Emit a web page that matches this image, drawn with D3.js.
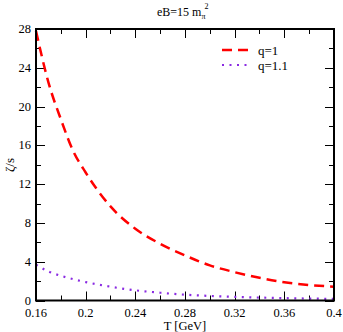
<!DOCTYPE html>
<meta charset="utf-8">
<style>
  body { margin: 0; background: #fff; }
  svg text { font-family: "Liberation Serif", "DejaVu Serif", serif; }
</style>
<svg width="343" height="332"></svg>
<script src="https://cdnjs.cloudflare.com/ajax/libs/d3/7.8.5/d3.min.js"></script>
<script>
  // data
  var temps = [0.16, 0.17, 0.18, 0.19, 0.20, 0.22, 0.24, 0.26, 0.28, 0.30, 0.32, 0.34, 0.36, 0.38, 0.40];
  var zetaQ1 = [27.8, 22.5, 18.7, 15.4, 13.2, 9.7, 7.4, 5.85, 4.65, 3.62, 2.92, 2.34, 1.88, 1.6, 1.42];
  var zetaQ11 = [3.7, 3.0, 2.55, 2.2, 1.9, 1.42, 1.05, 0.8, 0.6, 0.47, 0.38, 0.3, 0.24, 0.2, 0.16];
  var xTicks = [0.16, 0.2, 0.24, 0.28, 0.32, 0.36, 0.4];
  var yTicks = [0, 4, 8, 12, 16, 20, 24, 28];

  var svg = d3.select("svg");
  var plotL = 36, plotR = 334, plotT = 29, plotB = 300.5;

  var x = d3.scaleLinear().domain([0.16, 0.4]).range([plotL, plotR]);
  var y = d3.scaleLinear().domain([0, 28]).range([plotB, plotT]);

  var ticksG = svg.append("g").attr("stroke", "#000").attr("stroke-width", 1);

  // x ticks, bottom and top, pointing inward
  d3.range(0, 13).forEach(function(i) {
    var v = 0.16 + i * 0.02;
    var len = i % 2 == 0 ? 9 : 5;
    var px = Math.round(x(v)) + 0.5;
    ticksG.append("line").attr("x1", px).attr("x2", px).attr("y1", plotB).attr("y2", plotB - len);
    ticksG.append("line").attr("x1", px).attr("x2", px).attr("y1", plotT).attr("y2", plotT + len);
  });
  // y ticks, left and right
  d3.range(0, 15).forEach(function(i) {
    var v = i * 2;
    var len = i % 2 == 0 ? 9 : 5;
    var py = Math.round(y(v)) + 0.5;
    ticksG.append("line").attr("y1", py).attr("y2", py).attr("x1", plotL).attr("x2", plotL + len);
    ticksG.append("line").attr("y1", py).attr("y2", py).attr("x1", plotR).attr("x2", plotR - len);
  });

  var line = d3.line()
    .x(function(d) { return x(d[0]); })
    .y(function(d) { return y(d[1]); })
    .curve(d3.curveMonotoneX);

  svg.append("path")
    .datum(temps.map(function(t, i) { return [t, zetaQ1[i]]; }))
    .attr("d", line)
    .attr("fill", "none")
    .attr("stroke", "#ff0000")
    .attr("stroke-width", 2.5)
    .attr("stroke-dasharray", "10,6");

  svg.append("path")
    .datum(temps.map(function(t, i) { return [t, zetaQ11[i]]; }))
    .attr("d", line)
    .attr("fill", "none")
    .attr("stroke", "#8a2be2")
    .attr("stroke-width", 2.2)
    .attr("stroke-dasharray", "2,5.5");

  // frame
  svg.append("rect")
    .attr("x", plotL).attr("y", plotT)
    .attr("width", plotR - plotL).attr("height", plotB - plotT)
    .attr("fill", "none").attr("stroke", "#000").attr("stroke-width", 2);

  // tick labels
  svg.append("g").selectAll("text")
    .data(xTicks).enter().append("text")
    .attr("x", function(d) { return x(d); })
    .attr("y", 316.5)
    .attr("text-anchor", "middle")
    .attr("font-size", 12.5)
    .text(function(d) { return d; });

  svg.append("g").selectAll("text")
    .data(yTicks).enter().append("text")
    .attr("x", 31)
    .attr("y", function(d) { return y(d) + 4; })
    .attr("text-anchor", "end")
    .attr("font-size", 12.5)
    .text(function(d) { return d; });

  // axis titles
  svg.append("text")
    .attr("x", 185).attr("y", 330)
    .attr("text-anchor", "middle").attr("font-size", 12.5)
    .text("T [GeV]");

  svg.append("text")
    .attr("transform", "translate(14,165) rotate(-90)")
    .attr("text-anchor", "middle").attr("font-size", 13)
    .text("ζ/s");

  // title with sub/superscript
  var title = svg.append("text")
    .attr("x", 157).attr("y", 16)
    .attr("font-size", 12);
  title.append("tspan").text("eB=15 m");
  title.append("tspan").attr("font-size", 8).attr("dy", 3).text("π");
  title.append("tspan").attr("font-size", 8).attr("dy", -10).attr("dx", -1).text("2");

  // legend
  var legend = [
    { label: "q=1", color: "#ff0000", dash: "10,6", w: 2.5 },
    { label: "q=1.1", color: "#8a2be2", dash: "2,5.5", w: 2.2 }
  ];
  legend.forEach(function(d, i) {
    var ly = 50 + i * 15;
    svg.append("line")
      .attr("x1", 222).attr("x2", 248).attr("y1", ly).attr("y2", ly)
      .attr("stroke", d.color).attr("stroke-width", d.w)
      .attr("stroke-dasharray", d.dash);
    svg.append("text")
      .attr("x", 258).attr("y", ly + 4.5)
      .attr("font-size", 13)
      .text(d.label);
  });
</script>
